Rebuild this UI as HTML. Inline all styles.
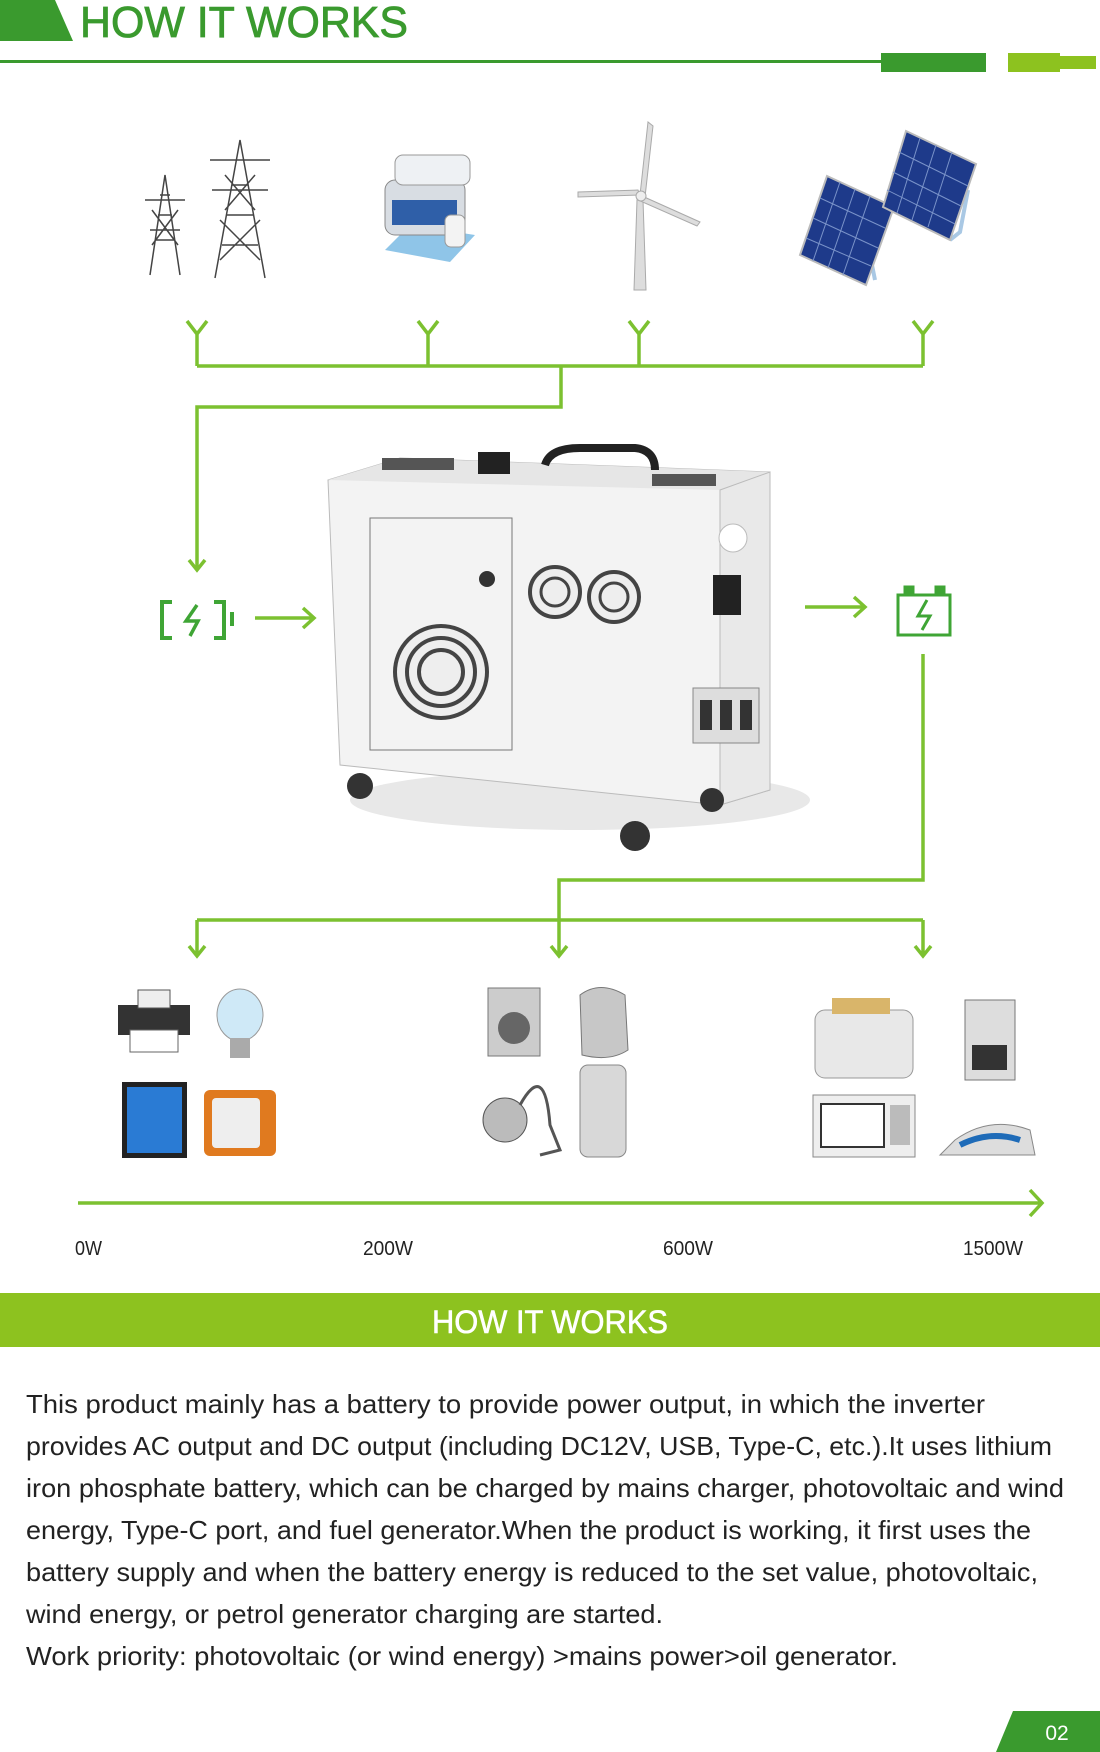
<!DOCTYPE html>
<html><head><meta charset="utf-8"><style>
html,body{margin:0;padding:0;background:#fff;}
svg{display:block;}
text{font-family:"Liberation Sans",sans-serif;}
</style></head><body>
<svg width="1100" height="1752" viewBox="0 0 1100 1752" xmlns="http://www.w3.org/2000/svg">
<!-- header -->
<polygon points="0,0 55,0 73,41 0,41" fill="#3a9a2e"/>
<text x="80" y="37" font-size="44" fill="#3a9a2e" stroke="#3a9a2e" stroke-width="0.8" textLength="328" lengthAdjust="spacingAndGlyphs">HOW IT WORKS</text>
<rect x="0" y="60" width="883" height="3" fill="#3a9a2e"/>
<rect x="881" y="53" width="105" height="19" fill="#3a9a2e"/>
<polygon points="1008,53 1060,53 1060,56 1096,56 1096,69 1060,69 1060,72 1008,72" fill="#8dc21f"/>

<g stroke="#7cc130" stroke-width="3.5" fill="none" stroke-linejoin="miter">
<path d="M187,321 L197,334 L207,321 M197,334 V366"/>
<path d="M418,321 L428,334 L438,321 M428,334 V366"/>
<path d="M629,321 L639,334 L649,321 M639,334 V366"/>
<path d="M913,321 L923,334 L933,321 M923,334 V366"/>
<path d="M197,366 H923"/>
<path d="M561,366 V407 H197 V570"/>
<path d="M189,560 L197,570 L205,560"/>
<path d="M255,618 H314 M303,608 L314,618 L303,628"/>
<path d="M805,607 H865 M854,597 L865,607 L854,617"/>
<path d="M923,654 V880 H559 V955"/>
<path d="M197,920 H923"/>
<path d="M197,920 V955 M189,946 L197,956 L205,946"/>
<path d="M551,946 L559,956 L567,946"/>
<path d="M923,920 V955 M915,946 L923,956 L931,946"/>
<path d="M78,1203 H1040 M1030,1190 L1042,1203 L1030,1216"/>
</g>

<!-- battery icon left -->
<g stroke="#3fa535" stroke-width="4" fill="none">
<path d="M172,602 H162 V638 H172 M214,602 H224 V638 H214"/>
<rect x="230" y="612" width="4" height="14" fill="#3fa535" stroke="none"/>
<path d="M197,605 L186,621 H198 L190,636" stroke-width="3.5"/>
</g>
<!-- battery icon right -->
<g stroke="#3fa535" stroke-width="3" fill="none">
<rect x="898" y="595" width="52" height="40"/>
<rect x="905" y="587" width="8" height="8" fill="#3fa535"/>
<rect x="936" y="587" width="8" height="8" fill="#3fa535"/>
<path d="M927,600 L918,616 H930 L922,630"/>
</g>

<!-- pylons -->
<g stroke="#444" stroke-width="1.5" fill="none">
<path d="M150,275 L165,175 L180,275 M155,240 H175 M158,215 H172 M160,195 H170 M145,200 H185 M150,230 H180 M152,245 L178,210 M178,245 L152,210"/>
<path d="M215,278 L240,140 L265,278 M222,245 H258 M227,215 H253 M232,185 H248 M210,160 H270 M212,190 H268 M220,260 L260,220 M260,260 L220,220 M225,210 L255,175 M255,210 L225,175"/>
</g>
<!-- generator -->
<g>
<polygon points="385,250 450,262 475,235 410,225" fill="#8fc5e8"/>
<rect x="385" y="180" width="80" height="55" rx="10" fill="#d8dde3" stroke="#888"/>
<rect x="392" y="200" width="65" height="25" fill="#2f5fa8"/>
<rect x="395" y="155" width="75" height="30" rx="8" fill="#eef1f4" stroke="#999"/>
<rect x="445" y="215" width="20" height="32" rx="6" fill="#f3f3f3" stroke="#999"/>
</g>
<!-- wind turbine -->
<g fill="#ddd" stroke="#aaa">
<polygon points="637,200 643,200 646,290 634,290"/>
<polygon points="640,195 648,122 653,126 645,197"/>
<polygon points="640,195 578,197 578,192 638,190"/>
<polygon points="642,196 700,222 697,226 638,200"/>
<circle cx="641" cy="196" r="5" fill="#eee"/>
</g>
<!-- solar -->
<g>
<path d="M870,255 L875,280 M950,240 L960,232 L968,190" stroke="#a9c8e4" stroke-width="4" fill="none"/>
<polygon points="827,176 894,207 866,285 800,255" fill="#1e3a8a" stroke="#bbb" stroke-width="2"/>
<polygon points="906,131 976,164 950,240 883,207" fill="#1e3a8a" stroke="#bbb" stroke-width="2"/>
<g stroke="#7a93c9" stroke-width="1">
<path d="M840,182 L813,261 M855,189 L828,268 M870,196 L843,275 M820,198 L885,228 M813,218 L878,248 M806,238 L871,266"/>
<path d="M920,138 L897,213 M936,145 L912,220 M952,152 L928,227 M899,152 L968,186 M893,172 L961,206 M887,190 L955,224"/>
</g>
</g>

<!-- product -->
<g>
<ellipse cx="580" cy="800" rx="230" ry="30" fill="#e8e8e8"/>
<polygon points="328,480 400,458 770,472 770,790 720,805 340,765" fill="#f3f3f3" stroke="#bbb"/>
<polygon points="328,480 400,458 770,472 720,490" fill="#e6e6e6"/>
<polygon points="720,490 770,472 770,790 720,805" fill="#e9e9e9" stroke="#bbb"/>
<rect x="370" y="518" width="142" height="232" fill="none" stroke="#777"/>
<circle cx="441" cy="672" r="46" fill="#eee" stroke="#444" stroke-width="4"/>
<circle cx="441" cy="672" r="34" fill="none" stroke="#444" stroke-width="4"/>
<circle cx="441" cy="672" r="22" fill="none" stroke="#444" stroke-width="4"/>
<circle cx="555" cy="592" r="25" fill="#eee" stroke="#444" stroke-width="4"/>
<circle cx="555" cy="592" r="14" fill="none" stroke="#444" stroke-width="3"/>
<circle cx="614" cy="597" r="25" fill="#eee" stroke="#444" stroke-width="4"/>
<circle cx="614" cy="597" r="14" fill="none" stroke="#444" stroke-width="3"/>
<circle cx="487" cy="579" r="8" fill="#333"/>
<rect x="478" y="452" width="32" height="22" fill="#222"/>
<path d="M545,465 Q550,448 580,448 L635,448 Q655,450 655,470" stroke="#222" stroke-width="8" fill="none"/>
<rect x="382" y="458" width="72" height="12" fill="#555"/>
<rect x="652" y="474" width="64" height="12" fill="#555"/>
<circle cx="733" cy="538" r="14" fill="#fff" stroke="#bbb"/>
<rect x="713" y="575" width="28" height="40" fill="#222"/>
<rect x="693" y="688" width="66" height="55" fill="#ddd" stroke="#888"/>
<rect x="700" y="700" width="12" height="30" fill="#333"/><rect x="720" y="700" width="12" height="30" fill="#333"/><rect x="740" y="700" width="12" height="30" fill="#333"/>
<circle cx="360" cy="786" r="13" fill="#333"/>
<circle cx="635" cy="836" r="15" fill="#333"/>
<circle cx="712" cy="800" r="12" fill="#333"/>
</g>

<!-- appliances -->
<g>
<rect x="118" y="1005" width="72" height="30" fill="#333"/>
<rect x="138" y="990" width="32" height="18" fill="#eee" stroke="#555"/>
<rect x="130" y="1030" width="48" height="22" fill="#fff" stroke="#666"/>
<ellipse cx="240" cy="1015" rx="23" ry="26" fill="#cfe9f7" stroke="#999"/>
<rect x="230" y="1038" width="20" height="20" fill="#aaa"/>
<rect x="122" y="1082" width="65" height="76" fill="#222"/>
<rect x="127" y="1087" width="55" height="66" fill="#2a7bd4"/>
<rect x="204" y="1090" width="72" height="66" rx="6" fill="#e07a1f"/>
<rect x="212" y="1098" width="48" height="50" rx="4" fill="#eee"/>
<rect x="488" y="988" width="52" height="68" fill="#ccc" stroke="#777"/>
<circle cx="514" cy="1028" r="16" fill="#666"/>
<path d="M580,995 Q600,980 625,995 L628,1050 Q610,1062 582,1055 Z" fill="#c7c7c7" stroke="#777"/>
<circle cx="505" cy="1120" r="22" fill="#bbb" stroke="#555"/>
<path d="M520,1105 Q545,1060 550,1125 L560,1150 L540,1155" stroke="#555" stroke-width="3" fill="none"/>
<rect x="580" y="1065" width="46" height="92" rx="8" fill="#d8d8d8" stroke="#888"/>
<rect x="815" y="1010" width="98" height="68" rx="10" fill="#e8e8e8" stroke="#999"/>
<rect x="832" y="998" width="58" height="16" fill="#d9b56a"/>
<rect x="965" y="1000" width="50" height="80" fill="#ddd" stroke="#777"/>
<rect x="972" y="1045" width="35" height="25" fill="#333"/>
<rect x="813" y="1095" width="102" height="62" fill="#eee" stroke="#888"/>
<rect x="820" y="1103" width="65" height="45" fill="#333"/>
<rect x="822" y="1105" width="61" height="41" fill="#fff"/>
<rect x="890" y="1105" width="20" height="40" fill="#bbb"/>
<path d="M940,1155 L1035,1155 L1030,1130 Q990,1115 955,1140 Z" fill="#ddd" stroke="#888"/>
<path d="M960,1145 Q990,1130 1020,1140" stroke="#1e6bb8" stroke-width="6" fill="none"/>
</g>

<!-- axis labels -->
<g font-size="20" fill="#222">
<text x="75" y="1255" textLength="27" lengthAdjust="spacingAndGlyphs">0W</text>
<text x="363" y="1255" textLength="50" lengthAdjust="spacingAndGlyphs">200W</text>
<text x="663" y="1255" textLength="50" lengthAdjust="spacingAndGlyphs">600W</text>
<text x="963" y="1255" textLength="60" lengthAdjust="spacingAndGlyphs">1500W</text>
</g>

<!-- band -->
<rect x="0" y="1293" width="1100" height="54" fill="#8dc21f"/>
<text x="550" y="1333" font-size="32" fill="#fff" stroke="#fff" stroke-width="0.6" text-anchor="middle" textLength="236" lengthAdjust="spacingAndGlyphs">HOW IT WORKS</text>

<!-- paragraph -->
<g font-size="26" fill="#222">
<text x="26" y="1413" textLength="959" lengthAdjust="spacingAndGlyphs">This product mainly has a battery to provide power output, in which the inverter</text>
<text x="26" y="1455" textLength="1026" lengthAdjust="spacingAndGlyphs">provides  AC output and DC output (including DC12V, USB, Type-C, etc.).It uses lithium</text>
<text x="26" y="1497" textLength="1038" lengthAdjust="spacingAndGlyphs">iron phosphate battery, which can be charged by mains charger, photovoltaic and wind</text>
<text x="26" y="1539" textLength="1005" lengthAdjust="spacingAndGlyphs">energy, Type-C port, and fuel generator.When the product is working, it first uses the</text>
<text x="26" y="1581" textLength="1012" lengthAdjust="spacingAndGlyphs">battery supply and when the battery energy is reduced to the set value, photovoltaic,</text>
<text x="26" y="1623" textLength="637" lengthAdjust="spacingAndGlyphs">wind energy, or petrol generator charging are started.</text>
<text x="26" y="1665" textLength="872" lengthAdjust="spacingAndGlyphs">Work priority: photovoltaic (or wind energy) &gt;mains power&gt;oil generator.</text>
</g>

<!-- page number -->
<polygon points="1013,1711 1100,1711 1100,1752 996,1752" fill="#3a9a2e"/>
<text x="1057" y="1740" font-size="21" fill="#fff" text-anchor="middle">02</text>
</svg>
</body></html>
